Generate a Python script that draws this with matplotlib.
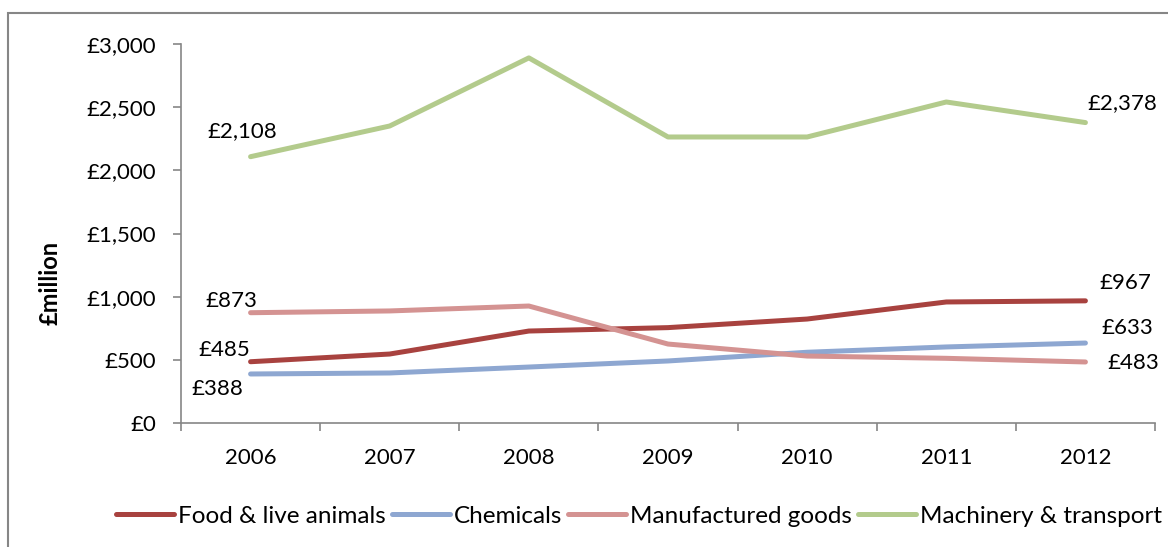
import matplotlib.pyplot as plt
from matplotlib import patches
from matplotlib.ticker import FuncFormatter

years = ["2006", "2007", "2008", "2009", "2010", "2011", "2012"]
food = [485, 546, 728, 755, 823, 958, 967]
chemicals = [388, 396, 443, 491, 560, 602, 633]
manufactured = [873, 887, 926, 625, 530, 512, 483]
machinery = [2108, 2351, 2890, 2264, 2264, 2541, 2378]

series = [
    ("Food & live animals", food, "#A8423F"),
    ("Chemicals", chemicals, "#8EA7D1"),
    ("Manufactured goods", manufactured, "#D49392"),
    ("Machinery & transport", machinery, "#B3CB8C"),
]

# end labels: (series index, point index, dx px, dy px)
end_labels = [
    (3, 0, -8, 26), (2, 0, -19, 12), (0, 0, -26, 12), (1, 0, -33, -15),
    (3, 6, 37, 19), (0, 6, 40, 18), (1, 6, 42, 15), (2, 6, 48, -1),
]

plt.rcParams['font.family'] = ['Lato', 'DejaVu Sans']
FS = 16

W, H = 1168, 547
fig = plt.figure(figsize=(W / 100, H / 100), dpi=100)
ax = fig.add_axes([181 / W, 1 - 423 / H, (1155 - 181) / W, (423 - 44) / H])

x = list(range(len(years)))
for name, vals, col in series:
    ax.plot(x, vals, color=col, lw=3.6, label=name, solid_capstyle='round')

for si, pi, dx, dy in end_labels:
    v = series[si][1][pi]
    ax.annotate(f"£{v:,}", (pi, v), xytext=(dx * 0.72, dy * 0.72),
                textcoords='offset points', ha='center', va='center', fontsize=FS)

ax.set_xlim(-0.5, len(years) - 0.5)
ax.set_ylim(0, 3000)
ax.set_yticks(range(0, 3001, 500))
ax.yaxis.set_major_formatter(FuncFormatter(lambda v, p: f"£{int(v):,}"))
ax.set_xticks(x)
ax.set_xticklabels(years)
ax.set_xticks([i - 0.5 for i in range(len(years) + 1)], minor=True)
ax.tick_params(axis='x', which='major', length=0, pad=18, labelsize=FS)
ax.tick_params(axis='x', which='minor', length=6, color='#868686', width=1.2)
ax.tick_params(axis='y', length=6, color='#868686', width=1.2, labelsize=FS, pad=12)
for s in ['top', 'right']:
    ax.spines[s].set_visible(False)
for s in ['left', 'bottom']:
    ax.spines[s].set_color('#868686')
    ax.spines[s].set_linewidth(1.2)

fig.text(50 / W, 1 - 283 / H, "£million", rotation=90, ha='center', va='center',
         fontsize=17, fontweight='bold')

fig.legend(loc='center', bbox_to_anchor=(639 / W, 1 - 516 / H), ncol=4, frameon=False,
           fontsize=17.5, handlelength=2.4, handletextpad=0.15, columnspacing=0.25)

fig.patches.append(patches.Rectangle((8 / W, -0.1), 1.2, 1 - 13 / H + 0.1,
                                     transform=fig.transFigure, fill=False,
                                     edgecolor='#868686', lw=1.5))

fig.savefig("out.png", dpi=100)
